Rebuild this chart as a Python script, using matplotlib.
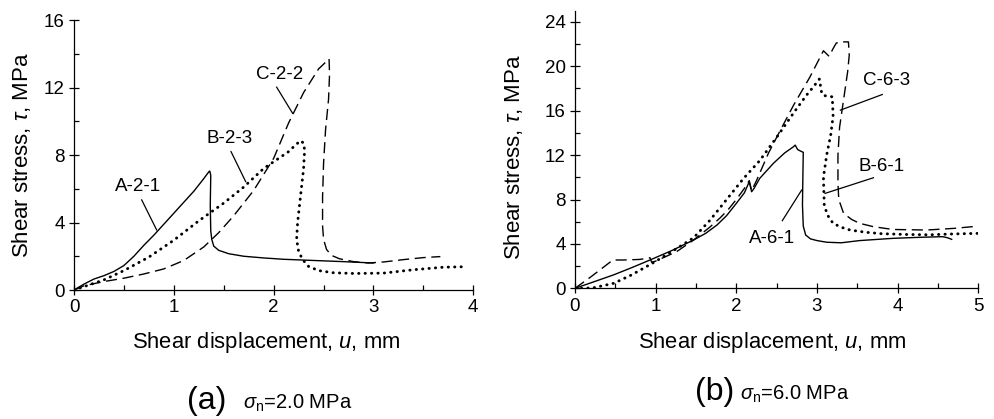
import matplotlib
matplotlib.use("Agg")
import matplotlib.pyplot as plt
from matplotlib.ticker import MultipleLocator

plt.rcParams["font.family"] = ["Liberation Sans", "DejaVu Sans"]
plt.rcParams["mathtext.fontset"] = "custom"
plt.rcParams["mathtext.rm"] = "Liberation Sans"
plt.rcParams["mathtext.it"] = "Liberation Sans:italic"

# ---- panel (a): normal stress 2.0 MPa ----
a_A_x = [0, 0.1, 0.2, 0.3, 0.4, 0.5, 0.6, 0.7, 0.8, 0.9, 1.0, 1.1, 1.2, 1.3, 1.35,
         1.36, 1.37, 1.365, 1.37, 1.38, 1.4, 1.45, 1.55, 1.7, 1.9, 2.1, 2.4, 2.7, 3.0]
a_A_y = [0, 0.35, 0.65, 0.85, 1.1, 1.45, 2.0, 2.65, 3.25, 3.9, 4.55, 5.2, 5.85, 6.6, 7.0,
         7.05, 6.8, 5.0, 3.5, 3.0, 2.6, 2.35, 2.15, 2.0, 1.9, 1.82, 1.75, 1.68, 1.6]

a_B_x = [0, 0.1, 0.2, 0.3, 0.5, 0.75, 1.0, 1.25, 1.5, 1.7, 1.9, 2.05, 2.15, 2.22, 2.27,
         2.3, 2.31, 2.30, 2.27, 2.24, 2.23, 2.25, 2.29, 2.35, 2.45, 2.6, 2.8, 3.1, 3.4,
         3.7, 3.93]
a_B_y = [0, 0.2, 0.4, 0.6, 1.15, 1.95, 2.95, 4.1, 5.15, 6.1, 7.2, 7.8, 8.2, 8.6, 8.85,
         8.7, 8.3, 7.2, 5.6, 4.0, 3.0, 2.3, 1.8, 1.4, 1.15, 1.02, 0.98, 1.0, 1.2,
         1.35, 1.38]

a_C_x = [0, 0.1, 0.3, 0.5, 0.7, 0.9, 1.1, 1.3, 1.45, 1.6, 1.8, 2.0, 2.15, 2.3, 2.45,
         2.53, 2.555, 2.56, 2.55, 2.52, 2.5, 2.49, 2.49, 2.5, 2.53, 2.58, 2.66, 2.8,
         2.95, 3.1, 3.3, 3.5, 3.67]
a_C_y = [0, 0.25, 0.5, 0.7, 0.95, 1.25, 1.75, 2.55, 3.4, 4.4, 5.9, 7.8, 9.9, 11.7, 13.1,
         13.55, 13.7, 12.8, 11.3, 9.5, 7.5, 5.5, 3.8, 3.0, 2.4, 2.05, 1.85, 1.68,
         1.6, 1.66, 1.8, 1.92, 1.98]

# ---- panel (b): normal stress 6.0 MPa ----
b_A_x = [0, 0.2, 0.475, 0.7, 0.93, 1.2, 1.47, 1.62, 1.76, 1.88, 2.0, 2.1, 2.16, 2.19,
         2.22, 2.29, 2.46, 2.6, 2.71, 2.73, 2.76, 2.8, 2.83, 2.825, 2.82, 2.83, 2.86,
         2.92, 3.0, 3.12, 3.3, 3.53, 3.94, 4.3, 4.56, 4.62, 4.67]
b_A_y = [0, 0.5, 1.2, 1.85, 2.55, 3.4, 4.35, 4.95, 5.7, 6.55, 7.65, 8.6, 9.6, 8.7,
         9.0, 9.9, 11.26, 12.2, 12.76, 12.9, 12.5, 12.35, 12.25, 10.0, 7.5, 5.6, 4.8,
         4.45, 4.3, 4.15, 4.1, 4.3, 4.5, 4.6, 4.65, 4.55, 4.41]

b_B_x = [0, 0.1, 0.23, 0.48, 0.7, 0.97, 1.2, 1.47, 1.67, 1.88, 2.09, 2.29, 2.5, 2.71,
         2.87, 2.95, 3.03, 3.06, 3.1, 3.19, 3.2, 3.17, 3.12, 3.08, 3.09, 3.13, 3.2,
         3.3, 3.41, 3.6, 3.8, 4.1, 4.4, 4.7, 5.0]
b_B_y = [0, 0.0, 0.05, 0.45, 1.2, 2.3, 3.3, 4.55, 6.1, 8.0, 9.9, 11.5, 13.6, 15.8,
         17.4, 18.1, 18.85, 17.5, 17.35, 17.25, 15.5, 13.8, 12.0, 10.0, 7.5, 6.6, 5.85,
         5.5, 5.25, 5.05, 4.92, 4.85, 4.82, 4.9, 4.95]

b_C_x = [0, 0.2, 0.47, 0.6, 0.8, 0.93, 0.95, 1.0, 1.26, 1.47, 1.67, 1.8, 1.9, 2.0, 2.1,
         2.16, 2.19, 2.25, 2.4, 2.5, 2.71, 2.91, 3.08, 3.15, 3.2, 3.24, 3.3, 3.39,
         3.40, 3.38, 3.33, 3.28, 3.26, 3.26, 3.27, 3.33, 3.43, 3.53, 3.7, 3.94, 4.36,
         4.7, 5.0]
b_C_y = [0, 1.05, 2.55, 2.55, 2.6, 2.75, 2.35, 2.45, 3.3, 4.35, 5.5, 6.35, 7.1, 8.0, 9.0,
         9.7, 8.8, 9.7, 12.2, 13.6, 16.5, 19.0, 21.4, 20.9, 21.6, 22.1, 22.2, 22.2,
         21.0, 19.5, 17.0, 14.5, 12.0, 9.5, 8.0, 6.75, 6.2, 5.85, 5.55, 5.3, 5.25,
         5.4, 5.6]

# curve labels: (text, text x, text y, leader start, leader end)
a_labels = [("A-2-1", 0.644, 6.13, (0.678, 5.34), (0.828, 3.56)),
            ("B-2-3", 1.563, 8.95, (1.573, 8.2), (1.72, 6.42)),
            ("C-2-2", 2.063, 12.75, (2.03, 12.02), (2.19, 10.47))]
b_labels = [("C-6-3", 3.868, 18.69, (3.81, 17.46), (3.29, 16.05)),
            ("B-6-1", 3.80, 10.95, (3.70, 9.96), (3.10, 8.55)),
            ("A-6-1", 2.44, 4.50, (2.57, 6.09), (2.81, 8.85))]

W, H = 994, 419
fig = plt.figure(figsize=(W / 100, H / 100), dpi=100)


def px_rect(x0, x1, ytop, ybot):
    return [x0 / W, 1 - ybot / H, (x1 - x0) / W, (ybot - ytop) / H]


ax1 = fig.add_axes(px_rect(74, 473.3, 20, 290))
ax2 = fig.add_axes(px_rect(575, 978.3, 10.8, 288.3))

solid = dict(color="black", lw=1.0, ls="-")
dotted = dict(color="black", lw=2.1, ls=(0, (0.1, 2.1)), dash_capstyle="round")
dashed = dict(color="black", lw=1.0, ls=(0, (8, 4)))


def style_axes(ax, xmax, ymax, ystep):
    ax.set_xlim(0, xmax)
    ax.set_ylim(0, ymax)
    for s in ("top", "right"):
        ax.spines[s].set_visible(False)
    for s in ("left", "bottom"):
        ax.spines[s].set_linewidth(0.9)
    ax.xaxis.set_major_locator(MultipleLocator(1))
    ax.xaxis.set_minor_locator(MultipleLocator(0.5))
    ax.yaxis.set_major_locator(MultipleLocator(ystep))
    ax.yaxis.set_minor_locator(MultipleLocator(ystep / 2))
    ax.tick_params(which="major", direction="inout", length=7.5, width=0.9,
                   labelsize=13.5, pad=3)
    ax.tick_params(which="minor", direction="in", length=3.6, width=0.9)
    ax.patch.set_alpha(0)


style_axes(ax1, 4, 16, 4)
style_axes(ax2, 5, 25, 4)
ax2.set_yticks([0, 4, 8, 12, 16, 20, 24])

ax1.plot(a_A_x, a_A_y, **solid)
ax1.plot(a_B_x, a_B_y, **dotted)
ax1.plot(a_C_x, a_C_y, **dashed)

ax2.plot(b_A_x, b_A_y, **solid)
ax2.plot(b_B_x, b_B_y, **dotted)
ax2.plot(b_C_x, b_C_y, **dashed)

for ax, labels in ((ax1, a_labels), (ax2, b_labels)):
    for txt, tx, ty, p0, p1 in labels:
        ax.text(tx, ty, txt, ha="center", va="center", fontsize=13.5)
        ax.plot([p0[0], p1[0]], [p0[1], p1[1]], color="black", lw=0.9)

ylab = r"Shear stress, $\tau$, MPa"
xlab = r"Shear displacement, $u$, mm"
fig.text(21.5 / W, 1 - 155 / H, ylab, rotation=90, ha="center", va="center",
         fontsize=16)
fig.text(513.5 / W, 1 - 157 / H, ylab, rotation=90, ha="center", va="center",
         fontsize=16)
fig.text(266.5 / W, 1 - 348 / H, xlab, ha="center", va="baseline", fontsize=15.8)
fig.text(771.7 / W, 1 - 348 / H, xlab, ha="center", va="baseline", fontsize=15.8)

fig.text(187 / W, 1 - 409 / H, "(a)", ha="left", va="baseline", fontsize=23)
fig.text(243 / W, 1 - 409 / H, r"$\sigma_{\rm n}$=2.0 MPa", ha="left",
         va="baseline", fontsize=14.5)
fig.text(695 / W, 1 - 400 / H, "(b)", ha="left", va="baseline", fontsize=23)
fig.text(740 / W, 1 - 400 / H, r"$\sigma_{\rm n}$=6.0 MPa", ha="left",
         va="baseline", fontsize=14.5)

fig.savefig("out.png", dpi=100, facecolor="white")
